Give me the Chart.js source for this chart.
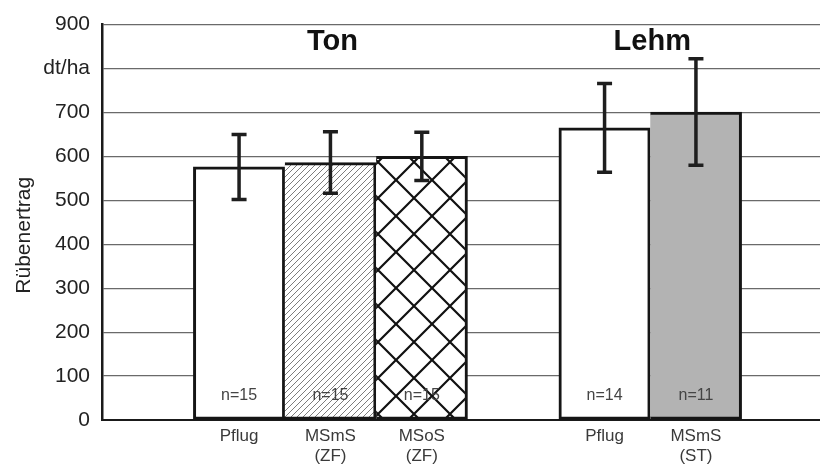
<!DOCTYPE html>
<html>
<head>
<meta charset="utf-8">
<script src="https://cdn.jsdelivr.net/npm/chart.js@4/dist/chart.umd.min.js"></script>
<style>
  html, body { margin: 0; padding: 0; background: #fff; overflow: hidden; }
  #wrap { width: 820px; height: 466px; overflow: hidden; position: relative; }
  canvas { display: block; }
</style>
</head>
<body>
<div id="wrap"><canvas id="c" width="840" height="466"></canvas></div>
<script>
// ---- data ----
const categories = ['', ['Pflug'], ['MSmS', '(ZF)'], ['MSoS', '(ZF)'], '', ['Pflug'], ['MSmS', '(ST)'], ''];
const yieldValues = [null, 576, 586, 600, null, 665, 701, null];
const errorValues = [null, 74, 70, 55, null, 101, 121, null];
const nLabels = ['', 'n=15', 'n=15', 'n=15', '', 'n=14', 'n=11', ''];
const groupTitles = ['Ton', 'Lehm'];
const groupMembers = [[1, 2, 3], [5, 6]];
const yTickLabels = { 800: 'dt/ha' };
const yAxisTitle = 'Rübenertrag';

// ---- patterns ----
const canvas = document.getElementById('c');
const ctx = canvas.getContext('2d');

function hatchPattern() {
  const s = 6;
  const c = document.createElement('canvas');
  c.width = s; c.height = s;
  const g = c.getContext('2d');
  g.fillStyle = '#ffffff';
  g.fillRect(0, 0, s, s);
  g.strokeStyle = '#7d7d7d';
  g.lineWidth = 1;
  g.beginPath();
  for (const d of [-s, 0, s]) {
    g.moveTo(d, s); g.lineTo(d + s, 0);
  }
  g.stroke();
  return ctx.createPattern(c, 'repeat');
}
function crossPattern() {
  const s = 36;
  const c = document.createElement('canvas');
  c.width = s; c.height = s;
  const g = c.getContext('2d');
  g.fillStyle = '#ffffff';
  g.fillRect(0, 0, s, s);
  g.strokeStyle = '#111111';
  g.lineWidth = 2.2;
  g.beginPath();
  for (const d of [-s, 0, s]) {
    g.moveTo(d, 0); g.lineTo(d + s, s);
    g.moveTo(d, s); g.lineTo(d + s, 0);
  }
  g.stroke();
  return ctx.createPattern(c, 'repeat');
}
const fills = [null, '#ffffff', hatchPattern(), crossPattern(), null, '#ffffff', '#b3b3b3', null];

const FONT = 'Arial, "Liberation Sans", sans-serif';

// ---- custom drawing ----
const extras = {
  id: 'extras',
  afterDatasetsDraw(chart) {
    const c = chart.ctx;
    const ys = chart.scales.y, xs = chart.scales.x;
    const meta = chart.getDatasetMeta(0);
    const area = chart.chartArea;
    c.save();
    // n labels
    c.font = '16px ' + FONT;
    c.fillStyle = '#444';
    c.textAlign = 'center';
    c.textBaseline = 'middle';
    meta.data.forEach((bar, i) => {
      if (yieldValues[i] == null) return;
      c.fillText(nLabels[i], bar.x, area.bottom - 24);
    });
    // error bars
    c.strokeStyle = '#1e1e1e';
    c.lineWidth = 3.5;
    c.lineCap = 'butt';
    meta.data.forEach((bar, i) => {
      if (yieldValues[i] == null) return;
      const top = ys.getPixelForValue(yieldValues[i] + errorValues[i]);
      const bot = ys.getPixelForValue(yieldValues[i] - errorValues[i]);
      const x = bar.x;
      c.beginPath();
      c.moveTo(x, top); c.lineTo(x, bot);
      c.moveTo(x - 7.5, top); c.lineTo(x + 7.5, top);
      c.moveTo(x - 7.5, bot); c.lineTo(x + 7.5, bot);
      c.stroke();
    });
    // group titles
    c.font = 'bold 29px ' + FONT;
    c.fillStyle = '#111';
    groupTitles.forEach((t, gi) => {
      const idx = groupMembers[gi];
      const x = idx.reduce((a, k) => a + xs.getPixelForValue(k), 0) / idx.length;
      c.fillText(t, x + 2, area.top + 17);
    });
    // y axis title
    c.font = '21px ' + FONT;
    c.fillStyle = '#222';
    c.translate(24, (area.top + area.bottom) / 2 + 13);
    c.rotate(-Math.PI / 2);
    c.fillText(yAxisTitle, 0, 0);
    c.restore();
  }
};

new Chart(ctx, {
  type: 'bar',
  data: {
    labels: categories,
    datasets: [{
      data: yieldValues,
      backgroundColor: fills,
      borderColor: '#151515',
      borderSkipped: false,
      borderWidth: (cx) => {
        const i = cx.dataIndex;
        const prevFilled = i > 0 && yieldValues[i - 1] != null;
        return { top: 3, right: 3, bottom: 3, left: prevFilled ? 0 : 3 };
      },
      categoryPercentage: 1,
      barPercentage: 1
    }]
  },
  options: {
    responsive: false,
    animation: false,
    events: [],
    layout: { padding: { top: 14, right: 7, bottom: 0, left: 0 } },
    plugins: { legend: { display: false }, tooltip: { enabled: false } },
    scales: {
      x: {
        offset: true,
        afterFit(scale) { scale.height = 46; },
        grid: { display: false, drawTicks: false },
        border: { display: true, color: '#1a1a1a', width: 2 },
        ticks: {
          autoSkip: false, maxRotation: 0, padding: 7,
          color: '#3a3a3a',
          font: { family: FONT, size: 17, lineHeight: 1.15 }
        }
      },
      y: {
        min: 0, max: 900,
        afterFit(scale) { scale.width = 102; },
        grid: { color: '#6a6a6a', lineWidth: 1.2, drawTicks: false },
        border: { display: true, color: '#1a1a1a', width: 2.5 },
        ticks: {
          stepSize: 100, padding: 12, color: '#222',
          font: { family: FONT, size: 21 },
          callback: (v) => (yTickLabels[v] !== undefined ? yTickLabels[v] : v)
        }
      }
    }
  },
  plugins: [extras]
});
</script>
</body>
</html>
